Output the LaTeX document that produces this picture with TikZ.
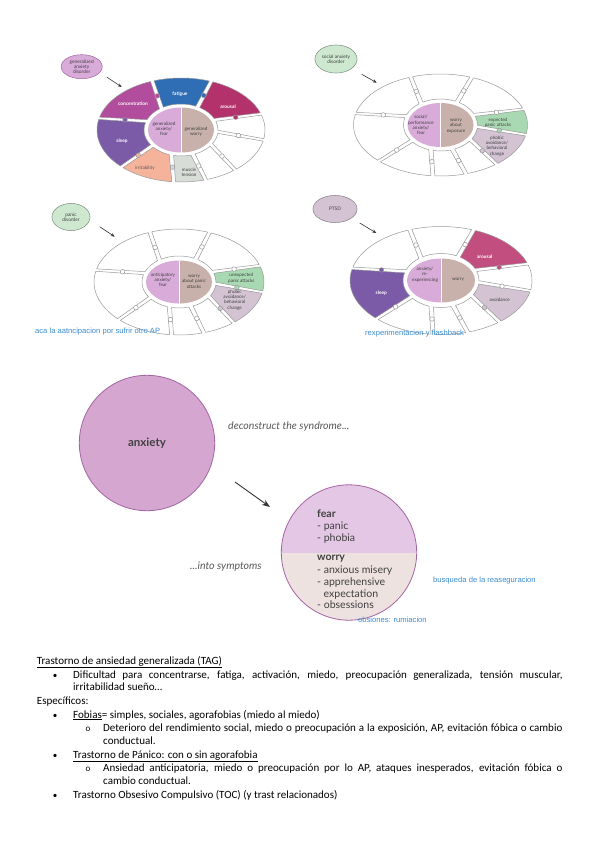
\documentclass[tikz,border=0pt]{standalone}
\usepackage{fontspec}
\setmainfont{Carlito}
\newfontfamily\diagfont{Lato}
\newfontfamily\notefont{Liberation Sans}
\usetikzlibrary{arrows.meta, shapes.geometric}

\definecolor{concpink}{HTML}{B24C9C}
\definecolor{fatigueblue}{HTML}{2F6DB5}
\definecolor{arousalred}{HTML}{B3326C}
\definecolor{sleepviolet}{HTML}{7B5BA7}
\definecolor{irritsalmon}{HTML}{F6B39C}
\definecolor{musclegray}{HTML}{D8DDD8}
\definecolor{fearlilac}{HTML}{D9ABD9}
\definecolor{worrytaupe}{HTML}{C9B1AB}
\definecolor{attackgreen}{HTML}{A9D9B2}
\definecolor{avoidmauve}{HTML}{D3C3D3}
\definecolor{ptsdarousal}{HTML}{C24E80}
\definecolor{bubblegreen}{HTML}{CDE8CF}
\definecolor{notesblue}{HTML}{3C8DD0}
\definecolor{anxfill}{HTML}{D5A6CF}
\definecolor{anxline}{HTML}{A565A3}
\definecolor{fearfill}{HTML}{E4C7E4}
\definecolor{worryfill}{HTML}{EDE2E0}

% one puzzle piece: outer start, inner start, outer end, inner end, fill
\newcommand{\wheelpiece}[5]{%
  \filldraw[piece, fill=#5] ({\orx*cos(#1+1.3)}, {\ory*sin(#1+1.3)})
    arc[start angle=#1+1.3, end angle=#3-1.3, x radius=\orx, y radius=\ory]
    -- ({\irx*cos(#4-3.5)}, {\iry*sin(#4-3.5)})
    arc[start angle=#4-3.5, end angle=#2+3.5, x radius=\irx, y radius=\iry] -- cycle;}
% little tab across a gap: outer angle, inner angle, fill
\newcommand{\wheelknob}[3]{%
  \filldraw[piece, fill=#3] ({0.45*\orx*cos(#1)+0.55*\irx*cos(#2)}, {0.45*\ory*sin(#1)+0.55*\iry*sin(#2)}) circle[radius=2.3];}
% the nine pieces of the ring, clockwise from the upper left
\newcommand{\wheelring}[9]{%
  \wheelpiece{193}{200}{250}{238}{#1}%
  \wheelpiece{250}{238}{291}{297}{#2}%
  \wheelpiece{291}{297}{342}{337}{#3}%
  \wheelpiece{342}{337}{371}{364}{#4}%
  \wheelpiece{371}{364}{410}{395}{#5}%
  \wheelpiece{410}{395}{433}{431}{#6}%
  \wheelpiece{433}{431}{455}{465}{#7}%
  \wheelpiece{455}{465}{495}{502}{#8}%
  \wheelpiece{495}{502}{553}{560}{#9}%
  \wheelknob{250}{238}{#1}\wheelknob{291}{297}{#2}\wheelknob{342}{337}{#3}%
  \wheelknob{371}{364}{#4}\wheelknob{410}{395}{#5}\wheelknob{433}{431}{#6}%
  \wheelknob{455}{465}{#7}\wheelknob{495}{502}{#8}\wheelknob{553}{560}{#9}}
% the two halves of the centre
\newcommand{\wheelcore}[2]{%
  \fill[#1] (0,\cry) arc[start angle=90, end angle=270, x radius=\crx, y radius=\cry] -- cycle;
  \fill[#2] (0,-\cry) arc[start angle=270, end angle=450, x radius=\crx, y radius=\cry] -- cycle;
  \draw[white, line width=0.8pt] (0,-\cry) -- (0,\cry);}

\begin{document}
\begin{tikzpicture}[x=0.3505mm, y=-0.3505mm,
    piece/.style={draw=black!40, line width=0.5pt, line join=round},
    wlabel/.style={font=\diagfont\fontsize{4.6}{5.3}\selectfont, align=center, inner sep=0pt, text=black!75},
    wtag/.style={wlabel, font=\diagfont\bfseries\fontsize{4.8}{5.3}\selectfont, text=white},
    bubble/.style={ellipse, inner sep=0pt, line width=0.5pt, align=center, text=black!75,
                   font=\diagfont\fontsize{4.8}{5.4}\selectfont},
    pointer/.style={draw=black!80, line width=0.6pt, -{Stealth[length=4pt, width=3.2pt]}},
    annot/.style={font=\notefont\fontsize{7.6}{9}\selectfont, text=notesblue, anchor=base west, inner sep=0pt},
    symtext/.style={font=\diagfont\fontsize{10.5}{12}\selectfont, text=black!75, anchor=base west, inner sep=0pt},
    slogan/.style={font=\diagfont\itshape\fontsize{10.5}{12}\selectfont, text=black!65, anchor=base west, inner sep=0pt},
    notes/.style={font=\fontsize{11}{13.4}\selectfont, anchor=base west, inner sep=0pt},
    bulletmark/.style={font=\fontsize{9}{13.4}\selectfont, anchor=base, inner sep=0pt}]
  \useasboundingbox (0,0) rectangle (599,848);
  \fill[white] (0,0) rectangle (599,848);

  % generalized anxiety disorder
  \begin{scope}[shift={(181,130)}]
    \def\orx{84}\def\ory{52}\def\irx{37}\def\iry{26}\def\crx{33}\def\cry{22.5}
    \wheelring{concpink}{fatigueblue}{arousalred}{white}{white}{white}{musclegray}{irritsalmon}{sleepviolet}
    \wheelcore{fearlilac}{worrytaupe}
  \end{scope}
  \node[wtag] (gadconc) at (133,104) {concentration};
  \node[wtag] (gadfat) at (180,94) {fatigue};
  \node[wtag] (gadarou) at (228,107) {arousal};
  \node[wtag] (gadsleep) at (122,141) {sleep};
  \node[wlabel, text=black!65] (gadirr) at (145,168) {irritability};
  \node[wlabel] (gadmus) at (189,172) {muscle\\tension};
  \node[wlabel] (gadfear) at (164,129) {generalized\\anxiety/\\fear};
  \node[wlabel] (gadworry) at (196,132) {generalized\\worry};
  \node[bubble, fill=fearlilac, draw=anxline, minimum width=41pt, minimum height=24pt] (gadbub) at (81.7,66.7) {generalized\\anxiety\\disorder};
  \coordinate (gadtail) at (106.7,77);
  \coordinate (gadhead) at (121.7,87);
  \draw[pointer] (gadtail) -- (gadhead);

  % social anxiety disorder
  \begin{scope}[shift={(440.5,125)}]
    \def\orx{87}\def\ory{51}\def\irx{37}\def\iry{26}\def\crx{33}\def\cry{22}
    \wheelring{white}{white}{white}{attackgreen}{avoidmauve}{white}{white}{white}{white}
    \wheelcore{fearlilac}{worrytaupe}
  \end{scope}
  \node[wlabel] (socfear) at (421,125) {social/\\performance\\anxiety/\\fear};
  \node[wlabel] (socworry) at (456,126) {worry\\about\\exposure};
  \node[wlabel] (socatt) at (498,123) {expected\\panic attacks};
  \node[wlabel] (socavoid) at (497,146) {phobic\\avoidance/\\behavioral\\change};
  \node[bubble, fill=bubblegreen, draw=bubblegreen!60!black, minimum width=42pt, minimum height=28pt] (socbub) at (336,59) {social anxiety\\disorder};
  \coordinate (soctail) at (361.7,74.3);
  \coordinate (sochead) at (376.7,82.7);
  \draw[pointer] (soctail) -- (sochead);

  % panic disorder
  \begin{scope}[shift={(179,282)}]
    \def\orx{85}\def\ory{53}\def\irx{37}\def\iry{26}\def\crx{33}\def\cry{21.5}
    \wheelring{white}{white}{white}{attackgreen}{avoidmauve}{white}{white}{white}{white}
    \wheelcore{fearlilac}{worrytaupe}
  \end{scope}
  \node[wlabel] (panfear) at (163,280) {anticipatory\\anxiety/\\fear};
  \node[wlabel] (panworry) at (194,281.7) {worry\\about panic\\attacks};
  \node[wlabel] (panatt) at (241.3,278.3) {unexpected\\panic attacks};
  \node[wlabel] (panavoid) at (234.7,300) {phobic\\avoidance/\\behavioral\\change};
  \node[bubble, fill=bubblegreen, draw=bubblegreen!60!black, minimum width=38pt, minimum height=27pt] (panbub) at (71,217) {panic\\disorder};
  \coordinate (pantail) at (99.7,226.7);
  \coordinate (panhead) at (114.7,236.7);
  \draw[pointer] (pantail) -- (panhead);

  % PTSD
  \begin{scope}[shift={(441,280.5)}]
    \def\orx{91}\def\ory{54}\def\irx{38}\def\iry{27}\def\crx{34}\def\cry{22}
    \wheelring{white}{white}{ptsdarousal}{white}{avoidmauve}{white}{white}{white}{sleepviolet}
    \wheelcore{fearlilac}{worrytaupe}
  \end{scope}
  \node[wtag] (ptsdarou) at (484.7,256.3) {arousal};
  \node[wtag] (ptsdsleep) at (381.3,293) {sleep};
  \node[wlabel] (ptsdavoid) at (499.7,299.7) {avoidance};
  \node[wlabel] (ptsdfear) at (425,274.7) {anxiety/\\re-\\experiencing};
  \node[wlabel] (ptsdworry) at (458,279.7) {worry};
  \node[bubble, fill=avoidmauve, draw=avoidmauve!65!black, minimum width=44pt, minimum height=27pt] (ptsdbub) at (335,209) {PTSD};
  \coordinate (ptsdtail) at (359.7,223);
  \coordinate (ptsdhead) at (376.3,233);
  \draw[pointer] (ptsdtail) -- (ptsdhead);

  \node[annot] (panicnote) at (35,333.5) {aca la aatncipacion por sufrir otro AP};
  \node[annot] (ptsdnote) at (365,335) {rexperimentacion y flashback};

  % anxiety into symptoms
  \node[circle, minimum size=135pt, inner sep=0pt, fill=anxfill, draw=anxline, line width=0.8pt,
        font=\diagfont\bfseries\fontsize{11.5}{12}\selectfont, text=black!75] (anx) at (147,443) {anxiety};
  \node[slogan] (decon) at (228,429.7) {deconstruct the syndrome...};
  \coordinate (decontail) at (235,482);
  \coordinate (deconhead) at (270,507);
  \draw[pointer, line width=0.9pt, -{Stealth[length=8pt, width=6pt]}] (decontail) -- (deconhead);
  \node[circle, minimum size=135pt, inner sep=0pt, draw=anxline, line width=0.8pt,
        path picture={\fill[fearfill] (path picture bounding box.north west) rectangle (path picture bounding box.east);
                      \fill[worryfill] (path picture bounding box.west) rectangle (path picture bounding box.south east);}] (sym) at (349,552.5) {};
  \foreach \txt/\xx/\yy [count=\k] in {{\textbf{fear}}/317/517, {- panic}/317/529, {- phobia}/317/541,
      {\textbf{worry}}/317/560, {- anxious misery}/317/573, {- apprehensive}/317/585.5,
      {expectation}/323.5/597, {- obsessions}/317/608.5}
    \node[symtext] (symline\k) at (\xx,\yy) {\txt};
  \node[slogan] (into) at (190,569.7) {...into symptoms};
  \node[annot] (reassure) at (433,582) {busqueda de la reaseguracion};
  \node[annot] (rumination) at (358,622.7) {obsiones: rumiacion};

  % notes
  \node[notes] (head1) at (36.7,664) {\underline{Trastorno de ansiedad generalizada (TAG)}};
  \node[notes] (line1) at (73,678.3) {\makebox[488pt][s]{Dificultad para concentrarse, fatiga, activación, miedo, preocupación generalizada, tensión muscular,}};
  \node[notes] (line2) at (73,690.7) {irritabilidad sueño…};
  \node[notes] (head2) at (36.7,704) {Específicos:};
  \node[notes] (line3) at (73,718) {\underline{Fobias}= simples, sociales, agorafobias (miedo al miedo)};
  \node[notes] (line4) at (103,731.3) {\makebox[458pt][s]{Deterioro del rendimiento social, miedo o preocupación a la exposición, AP, evitación fóbica o cambio}};
  \node[notes] (line5) at (103,744.3) {conductual.};
  \node[notes] (line6) at (73,758) {\underline{Trastorno de Pánico: con o sin agorafobia}};
  \node[notes] (line7) at (103,771.3) {\makebox[458pt][s]{Ansiedad anticipatoria, miedo o preocupación por lo AP, ataques inesperados, evitación fóbica o}};
  \node[notes] (line8) at (103,784.7) {cambio conductual.};
  \node[notes] (line9) at (73,798) {Trastorno Obsesivo Compulsivo (TOC) (y trast relacionados)};
  \foreach \yy [count=\k] in {678.3,718,758,798}
    \node[bulletmark] (bul\k) at (55,\yy) {•};
  \foreach \yy [count=\k] in {731.3,771.3}
    \node[bulletmark] (sub\k) at (88,\yy) {o};
\end{tikzpicture}
\end{document}
